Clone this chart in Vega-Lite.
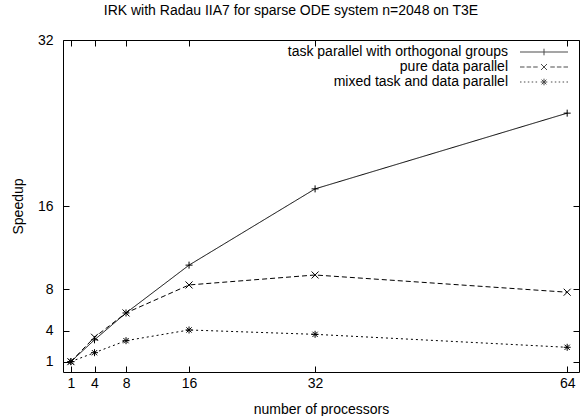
{
  "$schema": "https://vega.github.io/schema/vega-lite/v6.json",
  "width": 516,
  "height": 332,
  "autosize": {"type": "none"},
  "padding": {"left": 63, "top": 40, "right": 1, "bottom": 44},
  "config": {
    "font": "Liberation Sans",
    "view": {"stroke": "black", "strokeWidth": 1},
    "axis": {
      "domain": false,
      "grid": false,
      "tickSize": -6,
      "tickColor": "black",
      "tickWidth": 1,
      "labelFontSize": 14,
      "labelColor": "black",
      "titleFontSize": 14,
      "titleFontWeight": "normal",
      "titleColor": "black"
    }
  },
  "title": {
    "text": "IRK with  Radau IIA7 for sparse ODE system n=2048 on T3E",
    "fontSize": 14,
    "fontWeight": "normal",
    "color": "black",
    "anchor": "middle",
    "frame": "group",
    "dx": -30,
    "baseline": "alphabetic",
    "offset": 4
  },
  "data": {
    "values": [
      {"series": "task parallel with orthogonal groups", "p": 1, "s": 1},
      {"series": "task parallel with orthogonal groups", "p": 4, "s": 3.1},
      {"series": "task parallel with orthogonal groups", "p": 8, "s": 5.69},
      {"series": "task parallel with orthogonal groups", "p": 16, "s": 10.3},
      {"series": "task parallel with orthogonal groups", "p": 32, "s": 17.65},
      {"series": "task parallel with orthogonal groups", "p": 64, "s": 24.95},
      {"series": "pure data parallel", "p": 1, "s": 1},
      {"series": "pure data parallel", "p": 4, "s": 3.35},
      {"series": "pure data parallel", "p": 8, "s": 5.69},
      {"series": "pure data parallel", "p": 16, "s": 8.39},
      {"series": "pure data parallel", "p": 32, "s": 9.35},
      {"series": "pure data parallel", "p": 64, "s": 7.69},
      {"series": "mixed task and data parallel", "p": 1, "s": 1},
      {"series": "mixed task and data parallel", "p": 4, "s": 1.86},
      {"series": "mixed task and data parallel", "p": 8, "s": 3.02},
      {"series": "mixed task and data parallel", "p": 16, "s": 4.05},
      {"series": "mixed task and data parallel", "p": 32, "s": 3.63},
      {"series": "mixed task and data parallel", "p": 64, "s": 2.38}
    ]
  },
  "layer": [
    {
      "mark": {"type": "line", "color": "black", "strokeWidth": 1},
      "encoding": {
        "x": {
          "field": "p", "type": "quantitative",
          "scale": {"domain": [0, 65.5], "nice": false, "zero": false},
          "axis": {
            "orient": "bottom", "values": [1, 4, 8, 16, 32, 64],
            "labelPadding": 10,
            "title": "number of processors",
            "titleY": 41, "titleBaseline": "alphabetic"
          }
        },
        "y": {
          "field": "s", "type": "quantitative",
          "scale": {"domain": [0, 32], "nice": false},
          "axis": {
            "orient": "left", "values": [1, 4, 8, 16, 32],
            "labelPadding": 16,
            "title": "Speedup",
            "titleX": -41, "titleY": 166, "titleAngle": 270,
            "titleAlign": "center", "titleBaseline": "alphabetic"
          }
        },
        "strokeDash": {
          "field": "series", "type": "nominal",
          "scale": {
            "domain": ["task parallel with orthogonal groups", "pure data parallel", "mixed task and data parallel"],
            "range": [[1, 0], [5, 3], [2, 3]]
          },
          "legend": null
        },
        "detail": {"field": "series", "type": "nominal"}
      }
    },
    {
      "mark": {"type": "point", "filled": false, "color": "black", "strokeWidth": 1, "size": 49, "opacity": 1},
      "encoding": {
        "x": {
          "field": "p", "type": "quantitative",
          "axis": {"orient": "top", "values": [1, 4, 8, 16, 32, 64], "labels": false, "title": null}
        },
        "y": {
          "field": "s", "type": "quantitative",
          "axis": {"orient": "right", "values": [1, 4, 8, 16, 32], "labels": false, "title": null}
        },
        "shape": {
          "field": "series", "type": "nominal",
          "scale": {
            "domain": ["task parallel with orthogonal groups", "pure data parallel", "mixed task and data parallel"],
            "range": [
              "M-1,0H1M0,-1V1",
              "M-1,-1L1,1M-1,1L1,-1",
              "M-1,0H1M0,-1V1M-0.75,-0.75L0.75,0.75M-0.75,0.75L0.75,-0.75"
            ]
          },
          "legend": null
        }
      }
    },
    {
      "transform": [{"filter": "datum.p > 1000"}],
      "mark": {"type": "point", "filled": false, "color": "black", "strokeWidth": 1},
      "encoding": {
        "x": {"field": "p", "type": "quantitative", "axis": null},
        "y": {"field": "s", "type": "quantitative", "axis": null},
        "shape": {
          "field": "series", "type": "nominal",
          "scale": {
            "domain": ["task parallel with orthogonal groups", "pure data parallel", "mixed task and data parallel"],
            "range": [
              "M-8,0H8M0,-1.1V1.1",
              "M-8,0H-6.5M-5.8,0H-4.3M-3.6,0H-2.1M-1,-1L1,1M-1,1L1,-1M2.1,0H3.6M4.3,0H5.8M6.5,0H8",
              "M-8,0H-7.5M-6.7,0H-6.2M-5.4,0H-4.9M-4.1,0H-3.6M-2.8,0H-2.3M-1.1,0H1.1M0,-1.1V1.1M-0.8,-0.8L0.8,0.8M-0.8,0.8L0.8,-0.8M2.3,0H2.8M3.6,0H4.1M4.9,0H5.4M6.2,0H6.7M7.5,0H8"
            ]
          },
          "legend": {
            "orient": "none",
            "legendX": 474,
            "legendY": 5,
            "title": null,
            "padding": 0,
            "symbolSize": 36,
            "symbolStrokeColor": "black",
            "symbolFillColor": "transparent",
            "symbolStrokeWidth": 1,
            "symbolOffset": 0,
            "labelFontSize": 14,
            "labelColor": "black",
            "labelAlign": "right",
            "labelOffset": -43,
            "labelLimit": 400,
            "rowPadding": 1
          }
        }
      }
    }
  ],
  "resolve": {
    "scale": {"shape": "independent"},
    "axis": {"x": "independent", "y": "independent"}
  }
}
